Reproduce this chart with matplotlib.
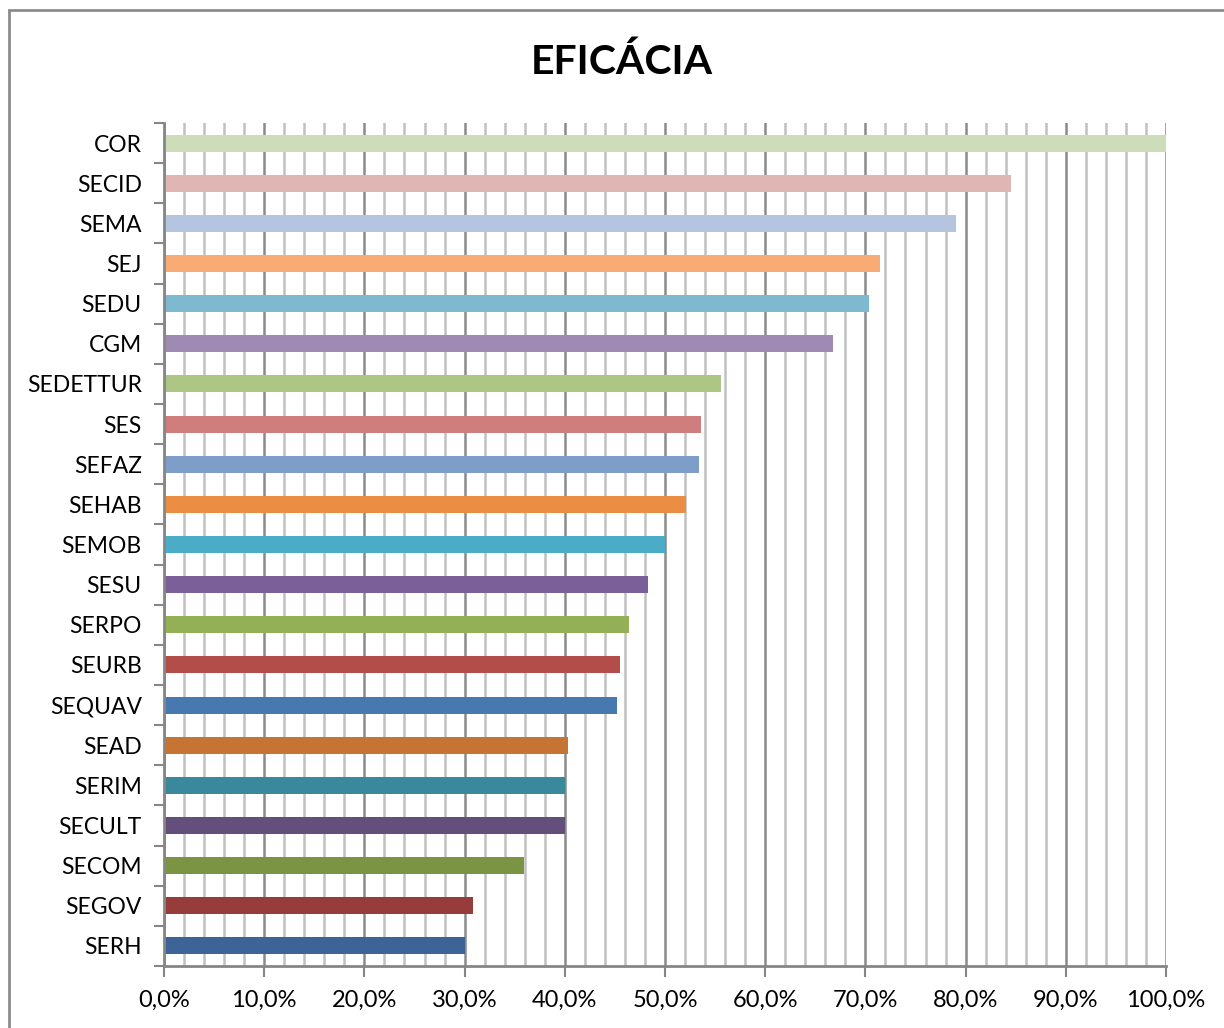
import matplotlib
matplotlib.use("Agg")
import matplotlib.pyplot as plt
from matplotlib.patches import Rectangle
from matplotlib.ticker import MultipleLocator, FuncFormatter

categories = ["SERH", "SEGOV", "SECOM", "SECULT", "SERIM", "SEAD", "SEQUAV", "SEURB",
              "SERPO", "SESU", "SEMOB", "SEHAB", "SEFAZ", "SES", "SEDETTUR", "CGM",
              "SEDU", "SEJ", "SEMA", "SECID", "COR"]
values = [30.0, 30.8, 35.9, 40.0, 40.0, 40.3, 45.2, 45.5,
          46.4, 48.3, 50.0, 52.1, 53.4, 53.6, 55.6, 66.8,
          70.4, 71.5, 79.0, 84.5, 100.0]
colors = ["#3C6496", "#963D3B", "#7B9443", "#644E7C", "#3A889C", "#C57434", "#4878B0", "#B34D4A",
          "#93B057", "#7A5F98", "#4AACC6", "#EB8D43", "#7F9DC9", "#CF7E7D", "#ADC685", "#9E8AB3",
          "#7EBACF", "#F9AB76", "#B5C4DF", "#E0B6B5", "#CDDDB9"]
title = "EFICÁCIA"

plt.rcParams['font.family'] = ['Lato', 'DejaVu Sans']

fig = plt.figure(figsize=(12.24, 10.28), dpi=100)
ax = fig.add_axes([164/1224, 1-966/1028, (1166-164)/1224, (966-123)/1028])

ypos = list(range(len(categories)))
ax.barh(ypos, values, height=0.42, color=colors, zorder=3)

ax.set_xlim(0, 100)
ax.set_ylim(-0.5, len(categories)-0.5)

ax.xaxis.set_major_locator(MultipleLocator(10))
ax.xaxis.set_minor_locator(MultipleLocator(2))
ax.xaxis.set_major_formatter(FuncFormatter(lambda v, p: f"{v:.1f}%".replace(".", ",")))
ax.grid(which="minor", axis="x", color="#C0C0C0", linewidth=1.8, zorder=0)
ax.grid(which="major", axis="x", color="#8A8A8A", linewidth=1.8, zorder=1)

ax.set_yticks(ypos)
ax.set_yticklabels(categories)
ax.set_yticks([i - 0.5 for i in range(len(categories)+1)], minor=True)
ax.tick_params(axis="y", which="major", length=0, pad=16, labelsize=16.5)
ax.tick_params(axis="y", which="minor", length=7, width=1.5, color="#868686")
ax.tick_params(axis="x", which="major", length=8, width=1.5, color="#868686", labelsize=17, pad=9)
ax.tick_params(axis="x", which="minor", length=0)

for s in ["top", "right"]:
    ax.spines[s].set_visible(False)
for s in ["left", "bottom"]:
    ax.spines[s].set_color("#868686")
    ax.spines[s].set_linewidth(2)
    ax.spines[s].set_zorder(4)

fig.text(622/1224, 1-62/1028, title, ha="center", va="center", fontsize=29.5, fontweight="bold")

fig.patches.append(Rectangle((9/1224, -0.1), 1.2, 1-10/1028+0.1, transform=fig.transFigure,
                             fill=False, edgecolor="#8C8C8C", linewidth=2, figure=fig))

fig.savefig("out.png", dpi=100)
